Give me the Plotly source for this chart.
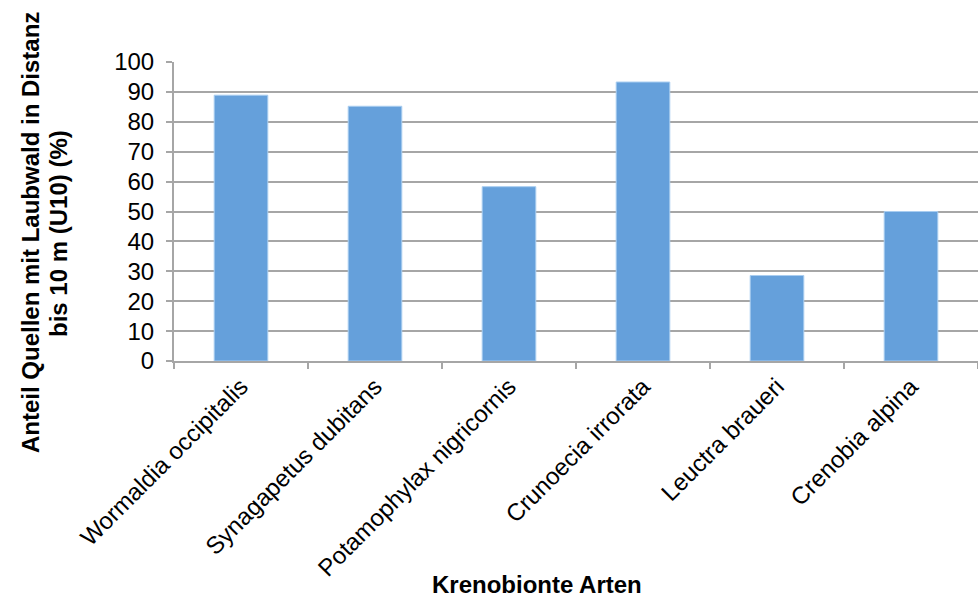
import plotly.graph_objects as go

# Species (krenobionte Arten) and share of springs with deciduous forest within 10 m
species = [
    "Wormaldia occipitalis",
    "Synagapetus dubitans",
    "Potamophylax nigricornis",
    "Crunoecia irrorata",
    "Leuctra braueri",
    "Crenobia alpina",
]
share_u10 = [88.9, 85.2, 58.3, 93.3, 28.6, 50.0]

y_ticks = [0, 10, 20, 30, 40, 50, 60, 70, 80, 90, 100]

font_family = "Liberation Sans, Arial, sans-serif"
grid_color = "#a6a6a6"
fs = 24

fig = go.Figure(
    go.Bar(
        x=species,
        y=share_u10,
        marker=dict(color="#65a0db", line=dict(color="#a9cdf0", width=1)),
        width=0.4,
    )
)

fig.update_layout(
    width=978,
    height=599,
    margin=dict(l=174, r=0, t=62, b=238),
    paper_bgcolor="white",
    plot_bgcolor="white",
    showlegend=False,
    font=dict(family=font_family, size=fs, color="#000000"),
)

fig.update_xaxes(
    type="category",
    tickangle=-45,
    tickfont=dict(family=font_family, size=fs, color="#000000"),
    showline=True,
    linecolor=grid_color,
    linewidth=2,
    ticks="outside",
    tickson="boundaries",
    ticklen=6,
    tickcolor=grid_color,
    tickwidth=2,
    showgrid=False,
)

fig.update_yaxes(
    range=[0, 100],
    tickvals=y_ticks,
    ticktext=[str(v) for v in y_ticks],
    tickfont=dict(family=font_family, size=fs, color="#000000"),
    ticklabelstandoff=7,
    showline=True,
    linecolor=grid_color,
    linewidth=2,
    ticks="outside",
    ticklen=6,
    tickcolor=grid_color,
    tickwidth=2,
    showgrid=True,
    gridcolor=grid_color,
    gridwidth=2,
    zeroline=False,
)

# Y axis title, two lines with a tight line spacing
y_title_lines = ["Anteil Quellen mit Laubwald in Distanz", "bis 10 m (U10) (%)"]
for line, xpos in zip(y_title_lines, [-0.1791, -0.1443]):
    fig.add_annotation(
        text=f"<b>{line}</b>",
        xref="paper", yref="paper",
        x=xpos, y=0.428,
        xanchor="center", yanchor="middle",
        textangle=-90,
        showarrow=False,
        font=dict(family=font_family, size=fs, color="#000000"),
    )

# X axis title
fig.add_annotation(
    text="<b>Krenobionte Arten</b>",
    xref="paper", yref="paper",
    x=0.4515, y=-0.746,
    xanchor="center", yanchor="middle",
    showarrow=False,
    font=dict(family=font_family, size=fs, color="#000000"),
)

fig.write_html("out.html")
